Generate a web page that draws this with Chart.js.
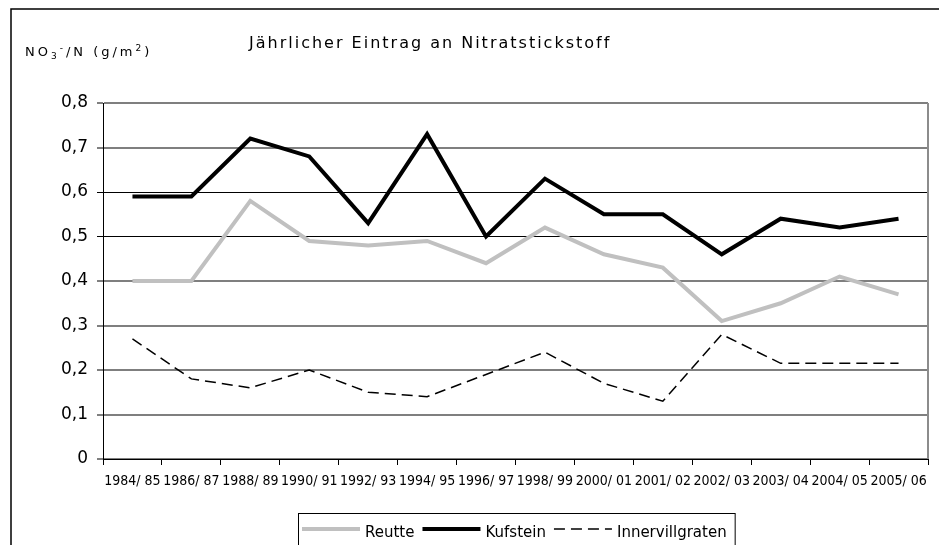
<!DOCTYPE html>
<html>
<head>
<meta charset="utf-8">
<script src="https://cdn.jsdelivr.net/npm/chart.js@4"></script>
<style>
  html, body { margin: 0; padding: 0; background: #fff; }
  #wrap { width: 939px; height: 545px; }
</style>
</head>
<body>
<div id="wrap"><canvas id="chart" width="939" height="545"></canvas></div>
<script>
var categories = ["1984/ 85", "1986/ 87", "1988/ 89", "1990/ 91", "1992/ 93", "1994/ 95", "1996/ 97",
    "1998/ 99", "2000/ 01", "2001/ 02", "2002/ 03", "2003/ 04", "2004/ 05", "2005/ 06"];
var reutte = [0.40, 0.40, 0.58, 0.49, 0.48, 0.49, 0.44, 0.52, 0.46, 0.43, 0.31, 0.35, 0.41, 0.37];
var kufstein = [0.59, 0.59, 0.72, 0.68, 0.53, 0.73, 0.50, 0.63, 0.55, 0.55, 0.46, 0.54, 0.52, 0.54];
var innervillgraten = [0.27, 0.18, 0.16, 0.20, 0.15, 0.14, 0.19, 0.24, 0.17, 0.13, 0.28, 0.215, 0.215, 0.215];
var yTicks = [0, 0.1, 0.2, 0.3, 0.4, 0.5, 0.6, 0.7, 0.8];

var chartTitle = "Jährlicher Eintrag an Nitratstickstoff";

// Frame, titles and the legend box are drawn by hand
var decor = {
    id: 'decor',
    afterDraw: function (chart) {
        var ctx = chart.ctx;
        var area = chart.chartArea;
        ctx.save();

        // outer frame (runs off the bottom and right edge)
        ctx.strokeStyle = '#000';
        ctx.lineWidth = 1.5;
        ctx.beginPath();
        ctx.moveTo(11, 546);
        ctx.lineTo(11, 9);
        ctx.lineTo(940, 9);
        ctx.stroke();

        // right border of the plot area
        ctx.strokeStyle = '#8c8c8c';
        ctx.lineWidth = 2;
        ctx.beginPath();
        ctx.moveTo(area.right, area.top);
        ctx.lineTo(area.right, area.bottom);
        ctx.stroke();

        // title
        ctx.fillStyle = '#000';
        ctx.textBaseline = 'alphabetic';
        ctx.textAlign = 'left';
        ctx.font = '16px "DejaVu Sans"';
        ctx.letterSpacing = '2px';
        ctx.fillText(chartTitle, 249, 48);

        // y axis title NO3-/N (g/m2)
        var x = 25, y = 56;
        var parts = [
            ['NO', 13, 0],
            ['3', 9, 3],
            ['-', 9, -5],
            ['/N (g/m', 13, 0],
            ['2', 9, -5],
            [')', 13, 0]
        ];
        parts.forEach(function (p) {
            ctx.font = p[1] + 'px "DejaVu Sans"';
            ctx.letterSpacing = '3px';
            ctx.fillText(p[0], x, y + p[2]);
            x += ctx.measureText(p[0]).width;
        });

        // legend
        ctx.letterSpacing = '0px';
        ctx.font = '15px "DejaVu Sans"';
        var lx = 298, ly = 513;
        var sy = 529;
        var items = chart.data.datasets;
        var cx = lx + 4;
        ctx.strokeStyle = '#000';
        ctx.lineWidth = 1;
        var widths = items.map(function (d) { return ctx.measureText(d.label).width; });
        var total = 4;
        widths.forEach(function (w) { total += 58 + 5 + w + 8; });
        ctx.strokeRect(lx + 0.5, ly + 0.5, total, 60);
        items.forEach(function (d, i) {
            ctx.save();
            ctx.strokeStyle = d.borderColor;
            ctx.lineWidth = d.borderWidth;
            ctx.setLineDash(d.borderDash || []);
            ctx.beginPath();
            ctx.moveTo(cx, sy);
            ctx.lineTo(cx + 58, sy);
            ctx.stroke();
            ctx.restore();
            ctx.fillStyle = '#000';
            ctx.fillText(d.label, cx + 63, 537);
            cx += 58 + 5 + widths[i] + 8;
        });
        ctx.restore();
    }
};

var gridColor = function (c) {
    var v = c.tick ? Math.round(c.tick.value * 10) : 0;
    return (v === 5 || v === 6) ? '#000' : '#7f7f7f';
};
var gridWidth = function (c) {
    var v = c.tick ? Math.round(c.tick.value * 10) : 0;
    return (v === 5 || v === 6) ? 1 : 2;
};

new Chart(document.getElementById('chart'), {
    type: 'line',
    data: {
        labels: categories,
        datasets: [{
            label: 'Reutte',
            data: reutte,
            borderColor: '#c0c0c0',
            borderWidth: 4,
            pointRadius: 0,
            tension: 0
        }, {
            label: 'Kufstein',
            data: kufstein,
            borderColor: '#000',
            borderWidth: 4,
            pointRadius: 0,
            tension: 0
        }, {
            label: 'Innervillgraten',
            data: innervillgraten,
            borderColor: '#000',
            borderWidth: 1.5,
            borderDash: [11, 6],
            pointRadius: 0,
            tension: 0
        }]
    },
    options: {
        responsive: false,
        animation: false,
        layout: { padding: { top: 103, right: 11, bottom: 56, left: 0 } },
        plugins: {
            legend: { display: false },
            title: { display: false },
            tooltip: { enabled: false }
        },
        scales: {
            x: {
                offset: true,
                afterFit: function (s) { s.height = 30; },
                grid: {
                    offset: true,
                    drawOnChartArea: false,
                    drawTicks: true,
                    tickLength: 6,
                    color: '#000'
                },
                border: { color: '#000', width: 1 },
                ticks: {
                    autoSkip: false,
                    maxRotation: 0,
                    padding: 8,
                    color: '#000',
                    font: { family: '"DejaVu Sans Condensed", "DejaVu Sans"', size: 14 }
                }
            },
            y: {
                min: 0,
                max: 0.8,
                afterFit: function (s) { s.width = 103; },
                afterBuildTicks: function (s) {
                    s.ticks = yTicks.map(function (v) { return { value: v }; });
                },
                grid: {
                    color: gridColor,
                    lineWidth: gridWidth,
                    tickColor: '#000',
                    tickWidth: 1,
                    tickLength: 6
                },
                border: { color: '#000', width: 1 },
                ticks: {
                    padding: 9,
                    color: '#000',
                    font: { family: '"DejaVu Sans"', size: 17 },
                    callback: function (v) {
                        return v === 0 ? '0' : v.toFixed(1).replace('.', ',');
                    }
                }
            }
        }
    },
    plugins: [decor]
});
</script>
</body>
</html>
